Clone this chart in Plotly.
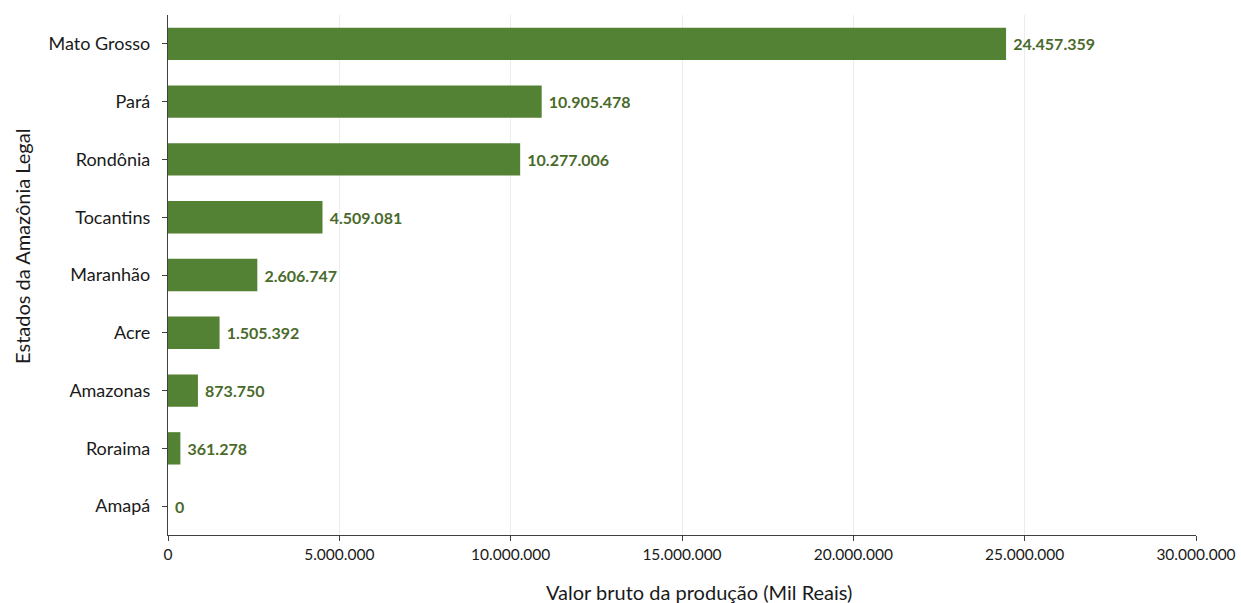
import plotly.graph_objects as go

estados = ["Mato Grosso", "Pará", "Rondônia", "Tocantins", "Maranhão",
           "Acre", "Amazonas", "Roraima", "Amapá"]
valores = [24457359, 10905478, 10277006, 4509081, 2606747,
           1505392, 873750, 361278, 0]
x_ticks = [0, 5000000, 10000000, 15000000, 20000000, 25000000, 30000000]

FONT = "Lato, 'Open Sans', sans-serif"

fig = go.Figure(go.Bar(
    x=valores, y=estados, orientation="h",
    marker=dict(color="#548235", line=dict(width=0)),
    width=0.56,
    text=valores,
    texttemplate="&nbsp;<b>%{x:,.0f}</b>",
    textposition="outside",
    textfont=dict(family=FONT, size=16, color="#4a6a2c"),
    cliponaxis=False,
))

fig.update_layout(
    width=1241, height=603,
    separators=",.",
    plot_bgcolor="white", paper_bgcolor="white",
    margin=dict(l=168, r=45, t=15, b=68, autoexpand=False),
    font=dict(family=FONT, size=18, color="#1a1a1a"),
    showlegend=False,
)
fig.update_xaxes(
    range=[0, 30000000], tickvals=x_ticks, tickformat=",.0f",
    showgrid=True, gridcolor="#ececec", gridwidth=1,
    showline=True, linecolor="#404040", linewidth=1.3,
    ticks="outside", ticklen=5, tickcolor="#404040",
    zeroline=False, tickfont=dict(size=15.5), automargin=False,
)
fig.update_yaxes(
    categoryorder="array", categoryarray=estados, autorange="reversed",
    showline=True, linecolor="#404040", linewidth=1.3,
    ticks="outside", ticklen=5, tickcolor="#404040",
    showgrid=False, tickfont=dict(size=18), ticklabelstandoff=8,
    automargin=False,
)
fig.add_annotation(text="Valor bruto da produção (Mil Reais)", xref="paper", yref="paper",
                   x=0.5165, y=0, yshift=-57, showarrow=False, yanchor="middle",
                   font=dict(size=20, color="#1a1a1a"))
fig.add_annotation(text="Estados da Amazônia Legal", xref="paper", yref="paper",
                   x=0, xshift=-146, y=0.554, textangle=-90, showarrow=False,
                   xanchor="center", font=dict(size=20, color="#1a1a1a"))

fig.write_html("out.html", config={"displayModeBar": False},
               post_script="document.body.style.margin='0';document.body.style.overflow='hidden';")
